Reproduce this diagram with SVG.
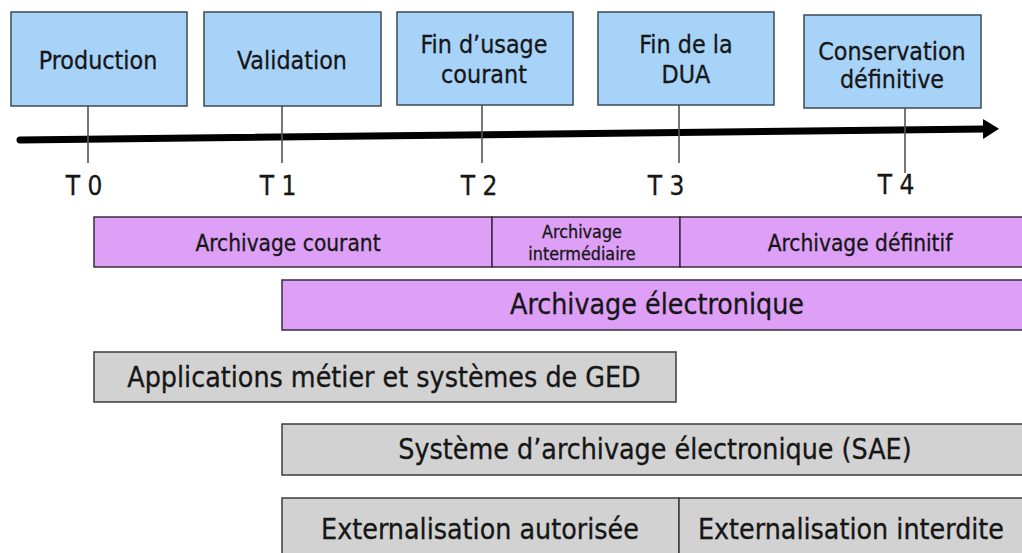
<svg xmlns="http://www.w3.org/2000/svg" width="1022" height="553" viewBox="0 0 1022 553">
<style>
text{font-family:"DejaVu Sans Condensed","DejaVu Sans","Liberation Sans",sans-serif;fill:#161616;stroke:#161616;stroke-width:0.3;text-anchor:middle}
.blue{fill:#a7d3f9;stroke:#3d4a55;stroke-width:1.5}
.purple{fill:#dea0f7;stroke:#3a2a40;stroke-width:1.5}
.gray{fill:#d2d2d2;stroke:#3c3c3c;stroke-width:1.5}
.bt{font-size:24.8px}
.tl{font-size:26px}
.pt{font-size:22.5px}
.ps{font-size:17.8px}
.lg{font-size:28.3px}
.tick{stroke:#555;stroke-width:1.6}
</style>
<defs>
<marker id="ah" viewBox="0 0 16 20" markerWidth="16" markerHeight="20" markerUnits="userSpaceOnUse" refX="2" refY="10" orient="auto">
<path d="M0,0 L16,10 L0,20 z" fill="#000"/>
</marker>
</defs>
<rect width="1022" height="553" fill="#fff"/>

<g id="connectors">
<line x1="20" y1="140" x2="985" y2="129" stroke="#000" stroke-width="7" stroke-linecap="round" marker-end="url(#ah)"/>
<line class="tick" x1="88" y1="106" x2="88" y2="163"/>
<line class="tick" x1="282" y1="106" x2="282" y2="163"/>
<line class="tick" x1="482" y1="105" x2="482" y2="163"/>
<line class="tick" x1="679" y1="105" x2="679" y2="163"/>
<line class="tick" x1="905" y1="108" x2="905" y2="173"/>
</g>

<g id="production">
<rect class="blue" x="11" y="12" width="176" height="94"/>
<text class="bt" x="98" y="69">Production</text>
</g>
<g id="validation">
<rect class="blue" x="204" y="12" width="177" height="94"/>
<text class="bt" x="292" y="69">Validation</text>
</g>
<g id="fin-usage">
<rect class="blue" x="397" y="12" width="176" height="93"/>
<text class="bt" x="484" y="53">Fin d’usage</text>
<text class="bt" x="484" y="83">courant</text>
</g>
<g id="fin-dua">
<rect class="blue" x="598" y="12" width="176" height="93"/>
<text class="bt" x="686" y="53">Fin de la</text>
<text class="bt" x="686" y="83">DUA</text>
</g>
<g id="conservation">
<rect class="blue" x="804" y="15" width="177" height="93"/>
<text class="bt" x="892" y="60">Conservation</text>
<text class="bt" x="892" y="88">définitive</text>
</g>

<g id="t0"><text class="tl" x="84" y="195">T 0</text></g>
<g id="t1"><text class="tl" x="278" y="195">T 1</text></g>
<g id="t2"><text class="tl" x="479" y="195">T 2</text></g>
<g id="t3"><text class="tl" x="666" y="195">T 3</text></g>
<g id="t4"><text class="tl" x="896" y="194">T 4</text></g>

<g id="archivage-courant">
<rect class="purple" x="94" y="217" width="398" height="50"/>
<text class="pt" x="288" y="251">Archivage courant</text>
</g>
<g id="archivage-intermediaire">
<rect class="purple" x="492" y="217" width="188" height="50"/>
<text class="ps" x="582" y="238">Archivage</text>
<text class="ps" x="582" y="260">intermédiaire</text>
</g>
<g id="archivage-definitif">
<rect class="purple" x="680" y="217" width="360" height="50"/>
<text class="pt" x="860" y="251">Archivage définitif</text>
</g>
<g id="archivage-electronique">
<rect class="purple" x="282" y="280" width="760" height="50"/>
<text class="lg" x="657" y="314">Archivage électronique</text>
</g>

<g id="applications">
<rect class="gray" x="94" y="352" width="582" height="50"/>
<text class="lg" x="384" y="387">Applications métier et systèmes de GED</text>
</g>
<g id="sae">
<rect class="gray" x="282" y="424" width="760" height="51"/>
<text class="lg" x="655" y="459">Système d’archivage électronique (SAE)</text>
</g>
<g id="ext-autorisee">
<rect class="gray" x="282" y="498" width="397" height="70"/>
<text class="lg" x="480" y="539">Externalisation autorisée</text>
</g>
<g id="ext-interdite">
<rect class="gray" x="679" y="498" width="370" height="70"/>
<text class="lg" x="851" y="539">Externalisation interdite</text>
</g>
</svg>
